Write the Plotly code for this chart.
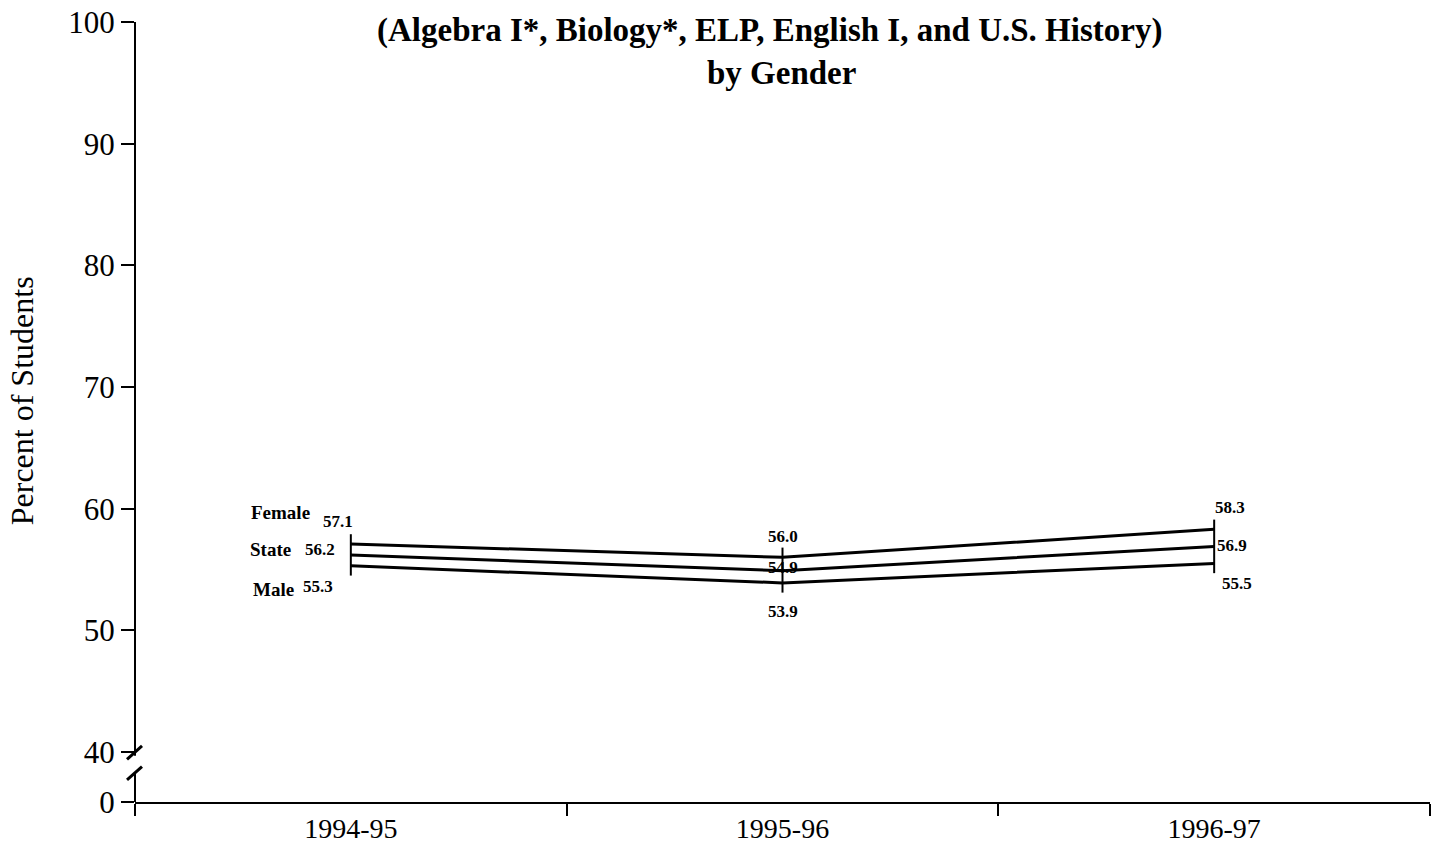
import plotly.graph_objects as go

# ---- data ----
years = ["1994-95", "1995-96", "1996-97"]
female = [57.1, 56.0, 58.3]
state = [56.2, 54.9, 56.9]
male = [55.3, 53.9, 55.5]
series_names = ["Female", "State", "Male"]

y_ticks = [40, 50, 60, 70, 80, 90, 100]
title_lines = ["(Algebra I*, Biology*, ELP, English I, and U.S. History)", "by Gender"]
y_title = "Percent of Students"

# ---- style / layout settings ----
FONT = "Liberation Serif"
BLACK = "#000000"
BREAK_BOTTOM = 35.89   # axis position where the "0" tick sits (below the break)
BAR_PAD = 0.8          # how far the vertical connector extends beyond the outer lines

# label offsets (pixels) relative to each data point: (xshift, yshift)
val_offsets = {
    "Female": [(-13, 22), (0, 21), (16, 22)],
    "State": [(-31, 5), (0, 3), (18, 1)],
    "Male": [(-33, -21), (0, -29), (23, -20)],
}
name_offsets = {"Female": (-39, 31), "State": (-58, 5), "Male": (-55, -24)}

fig = go.Figure()

all_series = {"Female": female, "State": state, "Male": male}

# vertical connector bars
for i, yr in enumerate(years):
    lo = min(male[i], state[i], female[i]) - BAR_PAD
    hi = max(male[i], state[i], female[i]) + BAR_PAD
    fig.add_trace(go.Scatter(x=[yr, yr], y=[lo, hi], mode="lines",
                             line=dict(color=BLACK, width=2), showlegend=False,
                             hoverinfo="skip"))

for name in series_names:
    fig.add_trace(go.Scatter(x=years, y=all_series[name], mode="lines", name=name,
                             line=dict(color=BLACK, width=3), showlegend=False))

annotations = []
for name in series_names:
    vals = all_series[name]
    for i, yr in enumerate(years):
        dx, dy = val_offsets[name][i]
        annotations.append(dict(x=yr, y=vals[i], text=f"<b>{vals[i]:.1f}</b>", showarrow=False,
                                xshift=dx, yshift=dy, xanchor="center", yanchor="middle",
                                font=dict(family=FONT, size=17, color=BLACK)))
    dx, dy = name_offsets[name]
    annotations.append(dict(x=years[0], y=vals[0], text=f"<b>{name}</b>", showarrow=False,
                            xshift=dx, yshift=dy, xanchor="right", yanchor="middle",
                            font=dict(family=FONT, size=19, color=BLACK)))

annotations.append(dict(xref="paper", yref="paper", x=0.490, y=1.0, xanchor="center",
                        yanchor="middle", yshift=-8,
                        text="<b>" + title_lines[0] + "</b>", showarrow=False,
                        font=dict(family=FONT, size=33, color=BLACK)))
annotations.append(dict(xref="paper", yref="paper", x=0.499, y=1.0, xanchor="center",
                        yanchor="middle", yshift=-51,
                        text="<b>" + title_lines[1] + "</b>", showarrow=False,
                        font=dict(family=FONT, size=33, color=BLACK)))
annotations.append(dict(xref="paper", yref="paper", x=-0.0873, y=0.515, textangle=-90,
                        xanchor="center", yanchor="middle",
                        text=y_title, showarrow=False,
                        font=dict(family=FONT, size=32, color=BLACK)))

# y axis line with break marks
px = 1.0 / 1295.0
shapes = [
    dict(type="line", xref="paper", yref="y", x0=0, x1=0, y0=100, y1=39.7,
         line=dict(color=BLACK, width=2)),
    dict(type="line", xref="paper", yref="y", x0=0, x1=0, y0=38.3, y1=BREAK_BOTTOM,
         line=dict(color=BLACK, width=2)),
    dict(type="line", xref="paper", yref="y", x0=-8 * px, x1=7 * px, y0=39.4, y1=40.5,
         line=dict(color=BLACK, width=3)),
    dict(type="line", xref="paper", yref="y", x0=-8 * px, x1=7 * px, y0=37.7, y1=38.8,
         line=dict(color=BLACK, width=3)),
]

fig.update_layout(
    width=1441, height=846,
    margin=dict(l=135, r=11, t=22, b=44, autoexpand=False),
    paper_bgcolor="white", plot_bgcolor="white",
    annotations=annotations, shapes=shapes,
    showlegend=False,
    xaxis=dict(type="category", range=[-0.5, 2.5], tickson="boundaries",
               ticks="outside", ticklen=12, tickwidth=2, tickcolor=BLACK,
               showline=True, linecolor=BLACK, linewidth=2, showgrid=False,
               zeroline=False, automargin=False,
               tickfont=dict(family=FONT, size=28, color=BLACK)),
    yaxis=dict(range=[BREAK_BOTTOM, 100],
               tickvals=[BREAK_BOTTOM] + y_ticks,
               ticktext=["0"] + [str(v) for v in y_ticks],
               ticks="outside", ticklen=13, tickwidth=2, tickcolor=BLACK,
               showline=False, showgrid=False, zeroline=False, automargin=False,
               tickfont=dict(family=FONT, size=31, color=BLACK)),
)

fig.write_html("out.html", config={"displayModeBar": False},
               post_script="document.body.style.margin='0';")
